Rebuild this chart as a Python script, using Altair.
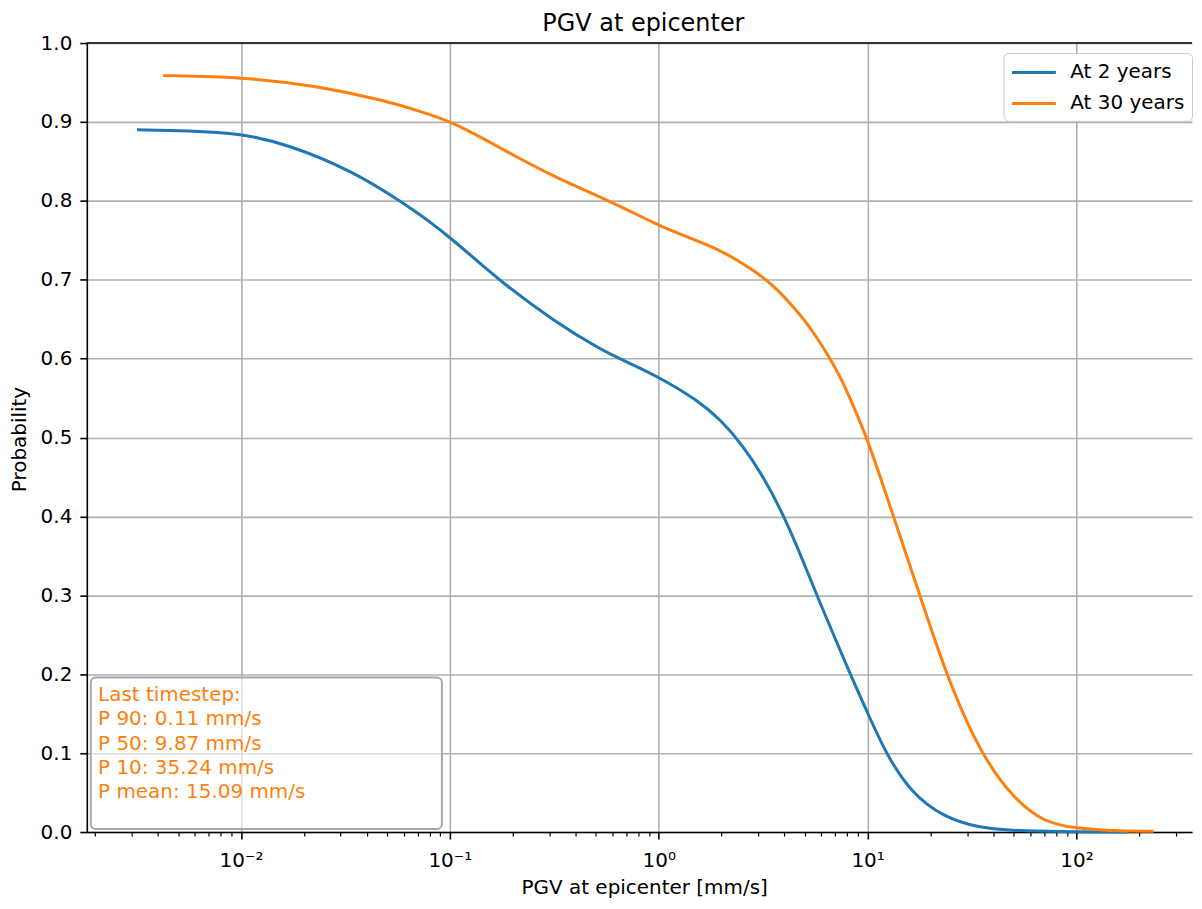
import math
import altair as alt
import pandas as pd

# ---- data ----
blue_x = [0.00318, 0.0056, 0.01, 0.0166, 0.0342, 0.0593, 0.0794, 0.1, 0.126, 0.171, 0.318, 0.552, 0.652,
          1.0, 1.54, 1.99, 2.51, 3.16, 3.98, 5.01, 5.71, 8.26, 10.0, 12.2, 16.1, 23.2, 33.5, 48.3,
          81.3, 178.0]
blue_y = [0.890, 0.889, 0.8853, 0.872, 0.838, 0.798, 0.7745, 0.7535, 0.731, 0.700, 0.6464, 0.6085, 0.600,
          0.577, 0.547, 0.522, 0.491, 0.451, 0.401, 0.338, 0.300, 0.200, 0.151, 0.100, 0.050,
          0.0186, 0.006, 0.002, 0.0005, 0.0001]

orange_x = [0.00424, 0.01, 0.0237, 0.0493, 0.0711, 0.104, 0.184, 0.318, 0.583, 1.0, 1.26, 1.66, 2.0,
            2.39, 2.82, 3.27, 3.72, 4.30, 4.98, 5.56, 6.62, 7.41, 8.32, 9.91, 11.5, 13.3, 17.8, 23.7,
            34.5, 50.1, 69.7, 100.0, 145.0, 234.0]
orange_y = [0.9587, 0.957, 0.9456, 0.9267, 0.914, 0.900, 0.8635, 0.8297, 0.800, 0.7687, 0.758, 0.7455,
            0.736, 0.7244, 0.7123, 0.700, 0.6866, 0.669, 0.649, 0.6317, 0.600, 0.5765, 0.5474, 0.500,
            0.450, 0.400, 0.300, 0.200, 0.100, 0.042, 0.0122, 0.0046, 0.0017, 0.001]

series_names = ["At 2 years", "At 30 years"]
series_colors = ["#1f77b4", "#ff7f0e"]

y_ticks = [0.0, 0.1, 0.2, 0.3, 0.4, 0.5, 0.6, 0.7, 0.8, 0.9, 1.0]
x_major = [0.01, 0.1, 1, 10, 100]
x_major_labels = ["10⁻²", "10⁻¹", "10⁰", "10¹", "10²"]
x_domain = [0.001828, 357.3]

box_lines = ["Last timestep:", "P 90: 0.11 mm/s", "P 50: 9.87 mm/s",
             "P 10: 35.24 mm/s", "P mean: 15.09 mm/s"]

title_text = "PGV at epicenter"
x_title = "PGV at epicenter [mm/s]"
y_title = "Probability"

# ---- build table ----
df = pd.concat([
    pd.DataFrame({"pgv": blue_x, "prob": blue_y, "series": series_names[0]}),
    pd.DataFrame({"pgv": orange_x, "prob": orange_y, "series": series_names[1]}),
])

W, H = 1108, 791
FONT = "DejaVu Sans"

minor = [k * 10.0 ** d for d in range(-3, 3) for k in range(2, 10)]
minor = [round(v, 6) for v in minor if x_domain[0] <= v <= x_domain[1]]
x_values = sorted(x_major + minor)

e = "round(log(datum.value)/LN10)"
is_major = f"abs(log(datum.value)/LN10 - {e}) < 0.001"
lab = "''"
for v, t in zip(reversed(x_major), reversed(x_major_labels)):
    lab = f"({e} == {round(math.log10(v))} ? '{t}' : {lab})"
label_expr = f"{is_major} ? {lab} : ''"

x_axis = alt.Axis(
    values=x_values,
    labelExpr=label_expr,
    labelOverlap=False,
    labelFlush=False,
    labelPadding=12,
    tickSize={"condition": {"test": is_major, "value": 7}, "value": 4},
    tickWidth={"condition": {"test": is_major, "value": 1.6}, "value": 1.2},
    gridOpacity={"condition": {"test": is_major, "value": 1}, "value": 0},
    title=x_title,
    titleX=558.8,
    titleY=62,
    titleAlign="center",
    titleBaseline="alphabetic",
)

y_axis = alt.Axis(
    values=y_ticks,
    format=".1f",
    labelPadding=8,
    title=y_title,
    titleX=-67,
    titleY=397,
    titleAngle=270,
    titleAlign="center",
    titleBaseline="middle",
)

lines = alt.Chart(df).mark_line(strokeWidth=3, interpolate="basis").encode(
    x=alt.X("pgv:Q", scale=alt.Scale(type="log", domain=x_domain, nice=False), axis=x_axis),
    y=alt.Y("prob:Q", scale=alt.Scale(domain=[0, 1], nice=False, zero=False), axis=y_axis),
    color=alt.Color(
        "series:N",
        scale=alt.Scale(domain=series_names, range=series_colors),
        legend=alt.Legend(
            title=None,
            orient="none",
            legendX=919,
            legendY=10,
            symbolType="M-2,0H2",
            symbolSize=484,
            symbolStrokeWidth=3,
            symbolOffset=11,
            labelFont=FONT,
            labelFontSize=20,
            labelColor="black",
            labelOffset=24,
            rowPadding=8,
            padding=7,
            strokeColor="#cccccc",
            fillColor="white",
            cornerRadius=5,
        ),
    ),
)

one = pd.DataFrame({"a": [0]})

box = alt.Chart(one).mark_rect(
    cornerRadius=5, fill="white", fillOpacity=0.6, stroke="#a8a8a8", strokeWidth=2
).encode(x=alt.value(4), x2=alt.value(356), y=alt.value(636), y2=alt.value(788))

box_text = alt.Chart(one).mark_text(
    align="left", baseline="alphabetic", font=FONT, fontSize=20, color="#ff7f0e", lineHeight=24.3
).encode(x=alt.value(11.3), y=alt.value(659.7), text=alt.value(box_lines))

top_spine = alt.Chart(one).mark_rule(color="black", strokeWidth=1.6).encode(
    x=alt.value(0), x2=alt.value(W), y=alt.value(0)
)

title_mark = alt.Chart(one).mark_text(
    align="center", baseline="alphabetic", font=FONT, fontSize=24, color="black"
).encode(x=alt.value(558), y=alt.value(-12), text=alt.value(title_text))

chart = alt.layer(lines, box, box_text, top_spine, title_mark).properties(
    width=W,
    height=H,
    autosize=alt.AutoSizeParams(type="none"),
    padding={"left": 79, "top": 34, "right": 2, "bottom": 67},
).configure_view(stroke=None).configure_axis(
    labelFont=FONT,
    labelFontSize=20,
    labelColor="black",
    titleFont=FONT,
    titleFontSize=20,
    titleFontWeight="normal",
    titleColor="black",
    domainColor="black",
    domainWidth=1.6,
    tickColor="black",
    tickWidth=1.6,
    tickSize=7,
    gridColor="#b0b0b0",
    gridWidth=1.6,
)

chart.save("out.html", embed_options={"renderer": "svg", "actions": False})
